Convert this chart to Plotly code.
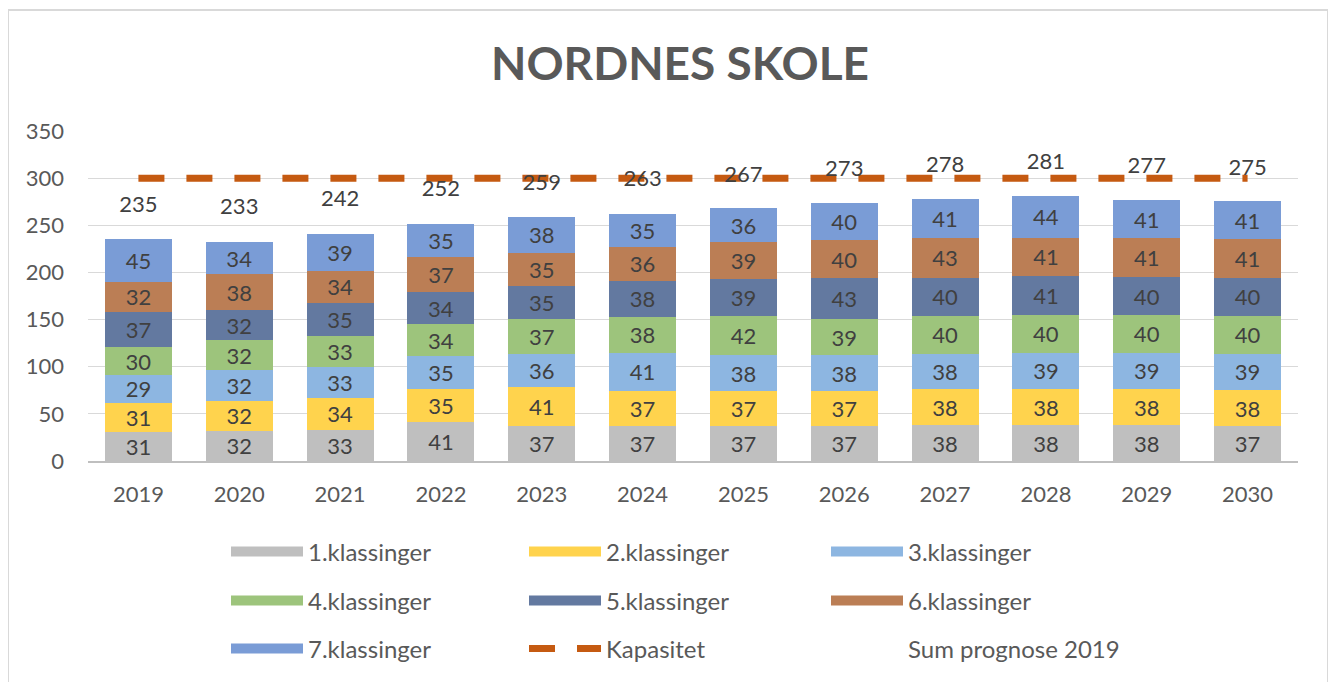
import plotly.graph_objects as go

years = ["2019", "2020", "2021", "2022", "2023", "2024", "2025", "2026", "2027", "2028", "2029", "2030"]
k1 = [31, 32, 33, 41, 37, 37, 37, 37, 38, 38, 38, 37]
k2 = [31, 32, 34, 35, 41, 37, 37, 37, 38, 38, 38, 38]
k3 = [29, 32, 33, 35, 36, 41, 38, 38, 38, 39, 39, 39]
k4 = [30, 32, 33, 34, 37, 38, 42, 39, 40, 40, 40, 40]
k5 = [37, 32, 35, 34, 35, 38, 39, 43, 40, 41, 40, 40]
k6 = [32, 38, 34, 37, 35, 36, 39, 40, 43, 41, 41, 41]
k7 = [45, 34, 39, 35, 38, 35, 36, 40, 41, 44, 41, 41]
kapasitet = [300] * 12
sum_prognose = [235, 233, 242, 252, 259, 263, 267, 273, 278, 281, 277, 275]

series = [
    ("1.klassinger", k1, "#BFBFBF"),
    ("2.klassinger", k2, "#FFD34D"),
    ("3.klassinger", k3, "#8DB6E1"),
    ("4.klassinger", k4, "#9DC47C"),
    ("5.klassinger", k5, "#6379A0"),
    ("6.klassinger", k6, "#BB7E55"),
    ("7.klassinger", k7, "#7A9CD6"),
]

FONT = "Lato"
# page body has an 8px margin: figure coords = viewport - 8
OFF = 8
W, H = 1336 - OFF, 682 - OFF
L, T = 88 - OFF, 131 - OFF
PW, PH = 1210, 330
R, B = W - L - PW, H - T - PH

def px2x(px):  # viewport px -> paper x
    return (px - OFF - L) / PW

def py2y(py):  # viewport px -> paper y
    return (T + PH - (py - OFF)) / PH

col_px = [226, 524, 826]
row_py = [552, 601, 649]
legend_ids = ["legend"] + ["legend%d" % i for i in range(2, 10)]

fig = go.Figure()
for name, vals, col in series:
    fig.add_trace(go.Bar(
        x=years, y=vals, name=name, showlegend=False,
        marker=dict(color=col, line=dict(width=0)),
        text=vals, texttemplate="%{y}", textposition="inside",
        insidetextanchor="middle", textangle=0,
        textfont=dict(family=FONT, size=22, color="#404040"),
        constraintext="none",
    ))

fig.add_trace(go.Scatter(
    x=years, y=kapasitet, name="Kapasitet", mode="lines", showlegend=False,
    line=dict(color="#C55A11", width=7, dash="26px,22px"),
))

fig.add_trace(go.Scatter(
    x=years, y=sum_prognose, name="Sum prognose 2019", mode="markers+text",
    showlegend=False,
    marker=dict(size=33, opacity=0, color="white"),
    text=sum_prognose, textposition="top center",
    textfont=dict(family=FONT, size=22, color="#404040"),
))

entries = [(name, dict(color=col, width=14)) for name, _, col in series]
entries.append(("Kapasitet", dict(color="#C55A11", width=7, dash="26px,22px")))
entries.append(("Sum prognose 2019", dict(color="rgba(0,0,0,0)", width=0)))

layout_legends = {}
for i, (name, line) in enumerate(entries):
    lid = legend_ids[i]
    fig.add_trace(go.Scatter(
        x=[None], y=[None], name=name, mode="lines", line=line,
        legend=lid, showlegend=True, hoverinfo="skip",
    ))
    r, c = divmod(i, 3)
    layout_legends[lid] = dict(
        x=px2x(col_px[c]), y=py2y(row_py[r]), xanchor="left", yanchor="middle",
        font=dict(family=FONT, size=24, color="#595959"),
        itemwidth=72, bgcolor="rgba(0,0,0,0)", borderwidth=0,
    )

fig.update_layout(
    width=W, height=H,
    margin=dict(l=L, r=R, t=T, b=B, autoexpand=False),
    paper_bgcolor="white", plot_bgcolor="white",
    barmode="stack", bargap=0.335,
    title=dict(text="<b>NORDNES SKOLE</b>", x=(680 - OFF) / W, xref="container", xanchor="center",
               y=1 - (64 - OFF) / H, yref="container", yanchor="middle",
               font=dict(family=FONT, size=46, color="#595959")),
    xaxis=dict(range=[-0.5, len(years) - 0.5], showgrid=False, showline=True,
               linecolor="#BFBFBF", linewidth=1.5, ticks="", ticklabelstandoff=13,
               tickfont=dict(family=FONT, size=22, color="#595959")),
    yaxis=dict(range=[0, 350], dtick=50, showgrid=True, gridcolor="#D9D9D9", gridwidth=1,
               zeroline=False, showline=False, ticks="", ticklabelstandoff=23,
               tickfont=dict(family=FONT, size=22, color="#595959")),
    showlegend=True,
    shapes=[dict(type="rect", xref="paper", yref="paper",
                 x0=px2x(8), x1=px2x(1328), y0=py2y(720), y1=py2y(10),
                 line=dict(color="#D9D9D9", width=2), fillcolor="rgba(0,0,0,0)", layer="below")],
    **layout_legends,
)

fig.write_html("out.html")
